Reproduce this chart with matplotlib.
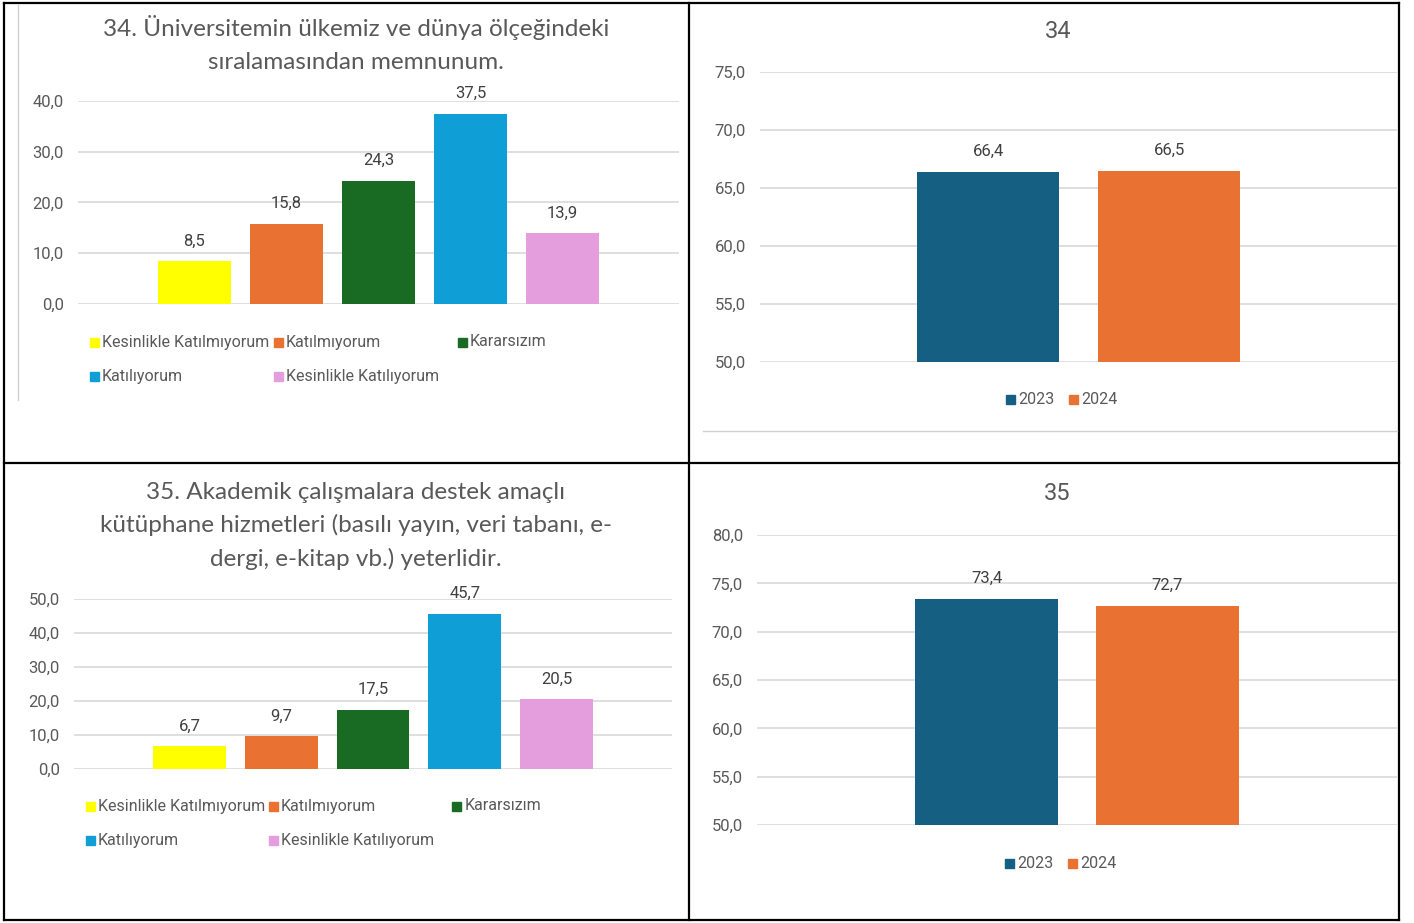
import matplotlib.pyplot as plt
import numpy as np
from matplotlib.patches import Rectangle
from matplotlib.lines import Line2D

W, H = 1414, 923

# Data
categories = ["Kesinlikle Katılmıyorum", "Katılmıyorum", "Kararsızım",
              "Katılıyorum", "Kesinlikle Katılıyorum"]
cat_colors = ["#FFFF00", "#E97132", "#196B24", "#0F9ED5", "#E59EDD"]
q34_values = [8.5, 15.8, 24.3, 37.5, 13.9]
q35_values = [6.7, 9.7, 17.5, 45.7, 20.5]

years = ["2023", "2024"]
year_colors = ["#156082", "#E97132"]
q34_years = [66.4, 66.5]
q35_years = [73.4, 72.7]

title34 = "34. Üniversitemin ülkemiz ve dünya ölçeğindeki\nsıralamasından memnunum."
title35 = ("35. Akademik çalışmalara destek amaçlı\n"
           "kütüphane hizmetleri (basılı yayın, veri tabanı, e-\n"
           "dergi, e-kitap vb.) yeterlidir.")

TXT = "#595959"
GRID = "#D9D9D9"
NUM_FONT = ["Roboto", "DejaVu Sans"]
TITLE_FONT = ["Lato", "DejaVu Sans"]

fig = plt.figure(figsize=(W / 100, H / 100), dpi=100)


def px_axes(x0, y0, x1, y1):
    return fig.add_axes([x0 / W, 1 - y1 / H, (x1 - x0) / W, (y1 - y0) / H])


def fx(x):
    return x / W


def fy(y):
    return 1 - y / H


def bar_panel(box, values, colors, ylim, step, slot_px, width):
    ax = px_axes(*box)
    n = len(values)
    x = np.arange(n)
    half = (box[2] - box[0]) / slot_px / 2
    ax.set_xlim((n - 1) / 2 - half, (n - 1) / 2 + half)
    ax.set_ylim(*ylim)
    ax.bar(x, values, width=width, color=colors, zorder=2)
    ticks = np.arange(ylim[0], ylim[1] + step / 2, step)
    ax.set_yticks(ticks)
    ax.set_yticklabels([f"{t:.1f}".replace(".", ",") for t in ticks],
                       family=NUM_FONT, fontsize=12, color=TXT)
    ax.tick_params(axis="y", length=0, pad=10)
    ax.set_xticks([])
    for t in ticks:
        ax.axhline(t, color=GRID, lw=1.2, zorder=1)
    for s in ax.spines.values():
        s.set_visible(False)
    ax.patch.set_alpha(0)
    for xi, v in zip(x, values):
        ax.annotate(f"{v:.1f}".replace(".", ","), (xi, v), xytext=(0, 9),
                    textcoords="offset points", ha="center", va="bottom",
                    family=NUM_FONT, fontsize=12, color="#404040")
    return ax


def legend_item(x, y, color, label):
    s = 9
    fig.patches.append(Rectangle((fx(x - s / 2), fy(y + s / 2)), s / W, s / H,
                                 transform=fig.transFigure, color=color))
    fig.text(fx(x + 8), fy(y), label, ha="left", va="center",
             family=NUM_FONT, fontsize=11.5, color=TXT)


# Top-left
fig.text(fx(356), fy(44), title34, ha="center", va="center", family=TITLE_FONT,
         fontsize=17.5, color=TXT, linespacing=1.65)
bar_panel((78, 101, 679, 304), q34_values, cat_colors, (0, 40), 10, 92, 0.79)
leg_pos = [(94, 342), (278, 342), (462, 342), (94, 376), (278, 376)]
for (lx, ly), c, lab in zip(leg_pos, cat_colors, categories):
    legend_item(lx, ly, c, lab)

# Top-right
fig.text(fx(1058), fy(31), "34", ha="center", va="center", family=NUM_FONT,
         fontsize=17, color=TXT)
bar_panel((760, 72, 1397, 362), q34_years, year_colors, (50, 75), 5, 181, 0.785)
legend_item(1010, 400, year_colors[0], years[0])
legend_item(1073, 400, year_colors[1], years[1])

# Bottom-left
fig.text(fx(356), fy(526), title35, ha="center", va="center", family=TITLE_FONT,
         fontsize=17.5, color=TXT, linespacing=1.65)
bar_panel((74, 599, 672, 769), q35_values, cat_colors, (0, 50), 10, 91.7, 0.79)
leg_pos = [(90, 806), (273, 806), (457, 806), (90, 840), (273, 840)]
for (lx, ly), c, lab in zip(leg_pos, cat_colors, categories):
    legend_item(lx, ly, c, lab)

# Bottom-right
fig.text(fx(1057), fy(494), "35", ha="center", va="center", family=NUM_FONT,
         fontsize=17, color=TXT)
bar_panel((757, 535, 1397, 825), q35_years, year_colors, (50, 80), 5, 181, 0.785)
legend_item(1009, 863, year_colors[0], years[0])
legend_item(1072, 863, year_colors[1], years[1])


# Table borders and faint chart frames
def fline(xs, ys, color="black", lw=1.6):
    fig.add_artist(Line2D([fx(v) for v in xs], [fy(v) for v in ys],
                          color=color, lw=lw, transform=fig.transFigure))


fline([4, 1399], [3, 3])
fline([4, 1399], [920, 920])
fline([4, 4], [3, 920])
fline([1399, 1399], [3, 920])
fline([689, 689], [3, 920])
fline([4, 1399], [463, 463])
fline([18, 18], [5, 400], color="#D0D0D0", lw=1)
fline([703, 1397], [431, 431], color="#D0D0D0", lw=1)

fig.savefig("out.png", dpi=100, facecolor="white")
